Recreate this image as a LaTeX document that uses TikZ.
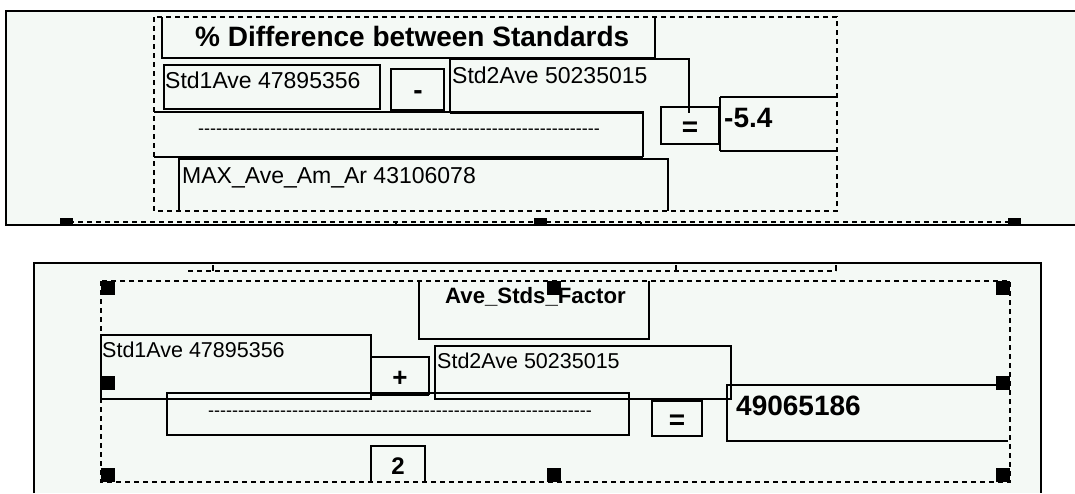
\documentclass[tikz,border=0pt]{standalone}
\usepackage{fontspec}
\newfontfamily\uifont{Liberation Sans}
\definecolor{panelbg}{RGB}{244,249,245}
\tikzset{
  panel/.style    = {fill=panelbg},
  frame/.style    = {draw=black, line width=2pt},
  grpbox/.style   = {draw=black, line width=1.4pt, dash pattern=on 5pt off 4pt},
  fieldbox/.style = {draw=black, line width=1.2pt},
  heavy/.style    = {draw=black, line width=2.4pt},
  fld/.style      = {font=\uifont\fontsize{23}{25}\selectfont, inner sep=0pt, anchor=base west},
  fldsm/.style    = {fld, font=\uifont\fontsize{21.5}{23}\selectfont},
  bld/.style      = {font=\uifont\bfseries\fontsize{28}{30}\selectfont, inner sep=0pt},
  dashrow/.style  = {font=\uifont\fontsize{18}{20}\selectfont, inner sep=0pt, anchor=base west},
}
\newcommand{\hyphenrow}[1]{\foreach \k in {1,...,#1}{-\kern0pt}}
\newcommand{\selhandle}[2]{\fill[black] (#1,#2) rectangle ++(14,14);}

\begin{document}
\begin{tikzpicture}[x=1pt, y=-1pt]
  \useasboundingbox (0,0) rectangle (1075,493);
  \fill[white] (0,0) rectangle (1075,493);
  \fill[panel] (6,11) rectangle (1075,225);
  \fill[panel] (34,263) rectangle (1041,493);

  % upper panel: percent difference
  \draw[grpbox] (154,17) rectangle (837,211);
  \draw[fieldbox] (162,17) -- (162,58) -- (655,58) -- (655,17);
  \draw[fieldbox] (164,65) rectangle (380,109);
  \draw[fieldbox] (391,69) rectangle (444,110);
  \draw[fieldbox] (450,113) -- (450,59) -- (689,59) -- (689,113);
  \draw[heavy] (450,113) -- (643,113);
  \draw[fieldbox] (154,112) -- (643,112) -- (643,157);
  \draw[heavy] (643,157) -- (154,157);
  \draw[fieldbox] (661,107) rectangle (719,144);
  \draw[fieldbox] (837,97) -- (720,97);
  \draw[heavy] (720,97) -- (720,151);
  \draw[fieldbox] (720,151) -- (837,151);
  \draw[fieldbox] (179,211) -- (179,159) -- (668,159) -- (668,211);
  \draw[heavy] (179,159) -- (643,159);

  \node[bld, anchor=base west] (title1) at (195,46) {\% Difference between Standards};
  \node[fld] (std1a) at (165,88) {Std1Ave 47895356};
  \node[bld, anchor=base] (minus) at (418,99) {-};
  \node[fld] (std2a) at (452,83) {Std2Ave 50235015};
  \node[dashrow] (frac1) at (198,134.5) {\hyphenrow{67}};
  \node[bld, anchor=base] (eq1) at (690,136) {=};
  \node[bld, anchor=base west] (res1) at (724,127) {-5.4};
  \node[fld] (maxave) at (182,183) {MAX\_Ave\_Am\_Ar 43106078};

  % next group, scrolled below the upper panel
  \draw[grpbox] (60,222) -- (1021,222);
  \draw[fieldbox] (396,222) -- (396,225);
  \draw[fieldbox] (641,222) -- (641,225);
  \fill[black] (60,218) rectangle (73,225);
  \fill[black] (534,218) rectangle (547,225);
  \fill[black] (1008,218) rectangle (1021,225);

  % lower panel: average of standards
  \draw[grpbox] (188,271) -- (836,271);
  \draw[fieldbox] (213,265) -- (213,271);
  \draw[fieldbox] (676,265) -- (676,271);
  \draw[fieldbox] (836,265) -- (836,271);

  \draw[grpbox] (101,281) rectangle (1010,482);
  \draw[fieldbox] (419,281) -- (419,339) -- (649,339) -- (649,281);
  \draw[fieldbox] (101,335) rectangle (371,399);
  \draw[fieldbox] (371,395) -- (371,357) -- (429,357) -- (429,395);
  \draw[heavy] (371,395) -- (429,395);
  \draw[fieldbox] (435,346) rectangle (731,399);
  \draw[fieldbox] (167,393) rectangle (629,435);
  \draw[fieldbox] (652,401) rectangle (702,436);
  \draw[fieldbox] (1008,385) -- (727,385) -- (727,441) -- (1008,441);
  \draw[fieldbox] (371,482) -- (371,446) -- (425,446) -- (425,482);

  \node[bld, anchor=base west, font=\uifont\bfseries\fontsize{22.2}{24}\selectfont] (title2) at (445,303) {Ave\_Stds\_Factor};
  \node[fldsm] (std1b) at (102,357) {Std1Ave 47895356};
  \node[bld, anchor=base, font=\uifont\bfseries\fontsize{26}{28}\selectfont] (plus) at (400,386) {+};
  \node[fldsm] (std2b) at (437,368) {Std2Ave 50235015};
  \node[dashrow] (frac2) at (208,416.5) {\hyphenrow{64}};
  \node[bld, anchor=base] (eq2) at (677,429) {=};
  \node[bld, anchor=base west] (res2) at (736,415) {49065186};
  \node[bld, anchor=base, font=\uifont\bfseries\fontsize{24}{26}\selectfont] (two) at (398,474) {2};

  \selhandle{101}{281} \selhandle{547}{281} \selhandle{996}{281}
  \selhandle{101}{376} \selhandle{996}{376}
  \selhandle{101}{468} \selhandle{547}{468} \selhandle{996}{468}

  % panel borders
  \draw[frame] (1075,11) -- (6,11) -- (6,225) -- (1075,225);
  \draw[frame] (34,493) -- (34,263) -- (1041,263) -- (1041,493);
\end{tikzpicture}
\end{document}
